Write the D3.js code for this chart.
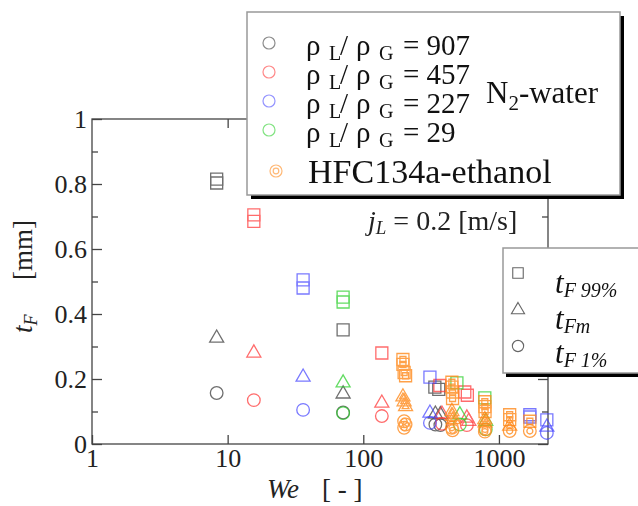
<!DOCTYPE html>
<html>
<head>
<meta charset="utf-8">
<script src="https://cdn.jsdelivr.net/npm/d3@7"></script>
<style>
body { margin: 0; background: #fff; }
svg, svg text { font-family: "Liberation Serif", "Times New Roman", serif; }
</style>
</head>
<body>
<div id="chart"></div>
<script>

// --> DATA  ([We, tF in mm])

var xTicks = [1, 10, 100, 1000];
var yTicks = [0, 0.2, 0.4, 0.6, 0.8, 1];
var yMinor = [0.1, 0.3, 0.5, 0.7, 0.9];

// rho_L / rho_G = 907
var r907_99 = [[8.3, 0.815], [8.3, 0.803], [71, 0.351], [337, 0.175], [360, 0.168]];
var r907_m  = [[8.3, 0.326], [71, 0.154], [340, 0.092], [370, 0.09]];
var r907_1  = [[8.3, 0.157], [71, 0.097], [340, 0.06], [370, 0.058]];

// rho_L / rho_G = 457
var r457_99 = [[15.6, 0.705], [15.6, 0.685], [137, 0.28], [367, 0.18], [560, 0.16], [585, 0.15]];
var r457_m  = [[15.6, 0.28], [137, 0.126], [380, 0.092], [580, 0.08], [600, 0.07]];
var r457_1  = [[15.6, 0.135], [137, 0.086], [380, 0.062], [580, 0.058]];

// rho_L / rho_G = 227
var r227_99 = [[36, 0.505], [36, 0.48], [310, 0.206], [1690, 0.09], [1690, 0.083], [2255, 0.074]];
var r227_m  = [[36, 0.206], [310, 0.095], [2255, 0.052]];
var r227_1  = [[36, 0.105], [310, 0.065], [2255, 0.034]];

// rho_L / rho_G = 29
var r29_99 = [[71, 0.452], [71, 0.437], [490, 0.188], [787, 0.142]];
var r29_m  = [[71, 0.188], [515, 0.09], [800, 0.07]];
var r29_1  = [[71, 0.095], [515, 0.06], [800, 0.045]];

// HFC134a-ethanol
var hfc_99 = [[196, 0.26], [196, 0.245], [200, 0.22], [205, 0.21], [450, 0.19], [450, 0.175],
              [455, 0.16], [455, 0.14], [787, 0.13], [787, 0.115], [790, 0.1], [1200, 0.09],
              [1200, 0.075], [1690, 0.07]];
var hfc_m  = [[196, 0.145], [200, 0.13], [205, 0.115], [450, 0.1], [455, 0.085], [460, 0.075],
              [787, 0.075], [790, 0.065], [1200, 0.055]];
var hfc_1  = [[200, 0.07], [205, 0.06], [200, 0.05], [450, 0.05], [455, 0.042], [790, 0.045],
              [787, 0.038], [1200, 0.04], [1690, 0.04]];

var ratioLabels = ["907", "457", "227", "29"];

// --> CREATE SVG DRAWING AREA

var width = 638,
    height = 506;

var gray = "#555",
    red = "#ff3b3b",
    blue = "#4040ff",
    green = "#2fd02f",
    orange = "#ff8a1c";

var series = [
    { color: gray, op: 0.85, d99: r907_99, dm: r907_m, d1: r907_1, dbl: false },
    { color: red, op: 0.75, d99: r457_99, dm: r457_m, d1: r457_1, dbl: false },
    { color: blue, op: 0.7, d99: r227_99, dm: r227_m, d1: r227_1, dbl: false },
    { color: green, op: 0.75, d99: r29_99, dm: r29_m, d1: r29_1, dbl: false },
    { color: orange, op: 0.8, d99: hfc_99, dm: hfc_m, d1: hfc_1, dbl: true }
];

var svg = d3.select("#chart").append("svg")
    .attr("width", width)
    .attr("height", height);

var x = d3.scaleLog().domain([1, 2300]).range([92, 548]);
var y = d3.scaleLinear().domain([0, 1]).range([444, 119]);

var frameColor = "#444";

// axes
svg.append("g")
    .attr("transform", "translate(0," + y(0) + ")")
    .call(d3.axisBottom(x).tickValues(xTicks).tickFormat(d3.format("d"))
        .tickSizeInner(-9).tickSizeOuter(0).tickPadding(5));

svg.append("g")
    .attr("transform", "translate(" + x(1) + ",0)")
    .call(d3.axisLeft(y).tickValues(yTicks).tickFormat(function (d) { return String(d); })
        .tickSizeInner(-10).tickSizeOuter(0).tickPadding(5));

svg.append("g")
    .attr("transform", "translate(0," + y(1) + ")")
    .call(d3.axisTop(x).tickValues(xTicks.slice(1)).tickFormat("")
        .tickSizeInner(-9).tickSizeOuter(0));

svg.append("g")
    .attr("transform", "translate(" + x(2300) + ",0)")
    .call(d3.axisRight(y).tickValues(yTicks).tickFormat("")
        .tickSizeInner(-10).tickSizeOuter(0));

svg.append("g")
    .attr("transform", "translate(" + x(1) + ",0)")
    .call(d3.axisLeft(y).tickValues(yMinor).tickFormat("").tickSizeInner(-6).tickSizeOuter(0));

svg.append("g")
    .attr("transform", "translate(" + x(2300) + ",0)")
    .call(d3.axisRight(y).tickValues(yMinor).tickFormat("").tickSizeInner(-6).tickSizeOuter(0));

svg.selectAll(".domain").remove();
svg.selectAll(".tick line").style("stroke", frameColor).style("stroke-width", 1.3);
svg.selectAll(".tick text")
    .style("font-family", "'Liberation Serif', serif")
    .style("font-size", "26px")
    .style("fill", "#222");

// frame
svg.append("rect")
    .attr("x", x(1))
    .attr("y", y(1))
    .attr("width", x(2300) - x(1))
    .attr("height", y(0) - y(1))
    .style("fill", "none")
    .style("stroke", frameColor)
    .style("stroke-width", 1.3);

// axis titles
svg.append("text")
    .attr("x", 267).attr("y", 498)
    .style("font-size", "27px").style("font-style", "italic").style("fill", "#222")
    .text("We");
svg.append("text")
    .attr("x", 322).attr("y", 498)
    .style("font-size", "27px").style("fill", "#222")
    .text("[ - ]");

var yTitle = svg.append("text")
    .attr("transform", "translate(32,333) rotate(-90)")
    .style("font-size", "27px").style("fill", "#222");
yTitle.append("tspan").style("font-style", "italic").text("t");
yTitle.append("tspan").attr("dy", 5).style("font-size", "18px").style("font-style", "italic").text("F");
yTitle.append("tspan").attr("x", 53).attr("dy", -5).text("[mm]");

// --> DATA MARKERS

var shapes = [
    { key: "d99", type: d3.symbolSquare, size: 144, inner: 36 },
    { key: "dm", type: d3.symbolTriangle, size: 85, inner: 20 },
    { key: "d1", type: d3.symbolCircle, size: 125, inner: 28 }
];

var marks = svg.append("g");

series.forEach(function (s) {
    shapes.forEach(function (sh) {
        var g = marks.append("g")
            .style("fill", "none")
            .style("stroke", s.color)
            .style("stroke-width", 1.3)
            .style("opacity", s.op);
        g.selectAll("path.outer")
            .data(s[sh.key])
            .enter()
            .append("path")
            .attr("class", "outer")
            .attr("transform", function (d) { return "translate(" + x(d[0]) + "," + y(d[1]) + ")"; })
            .attr("d", d3.symbol().type(sh.type).size(sh.size));
        if (s.dbl) {
            g.selectAll("path.inner")
                .data(s[sh.key])
                .enter()
                .append("path")
                .attr("class", "inner")
                .attr("transform", function (d) { return "translate(" + x(d[0]) + "," + y(d[1]) + ")"; })
                .attr("d", d3.symbol().type(sh.type).size(sh.inner));
        }
    });
});

// j_L annotation
var jl = svg.append("text")
    .attr("x", 368).attr("y", 230)
    .style("font-size", "28px").style("fill", "#222");
jl.append("tspan").style("font-style", "italic").text("j");
jl.append("tspan").attr("dy", 4).style("font-size", "19px").style("font-style", "italic").text("L");
jl.append("tspan").attr("dy", -4).text(" = 0.2 [m/s]");

// --> LEGEND 1 (fluids)

var leg1 = svg.append("g");
leg1.append("rect")
    .attr("x", 251).attr("y", 16).attr("width", 373).attr("height", 183)
    .style("fill", "#000");
leg1.append("rect")
    .attr("x", 247).attr("y", 12).attr("width", 373).attr("height", 183)
    .style("fill", "#fff").style("stroke", "#999").style("stroke-width", 1.5);

ratioLabels.forEach(function (lab, i) {
    var by = 55 + i * 29;
    leg1.append("circle")
        .attr("cx", 269).attr("cy", by - 12).attr("r", 6)
        .style("fill", "none")
        .style("stroke", series[i].color)
        .style("stroke-width", 1.2)
        .style("opacity", series[i].op * 0.8);
    var t = leg1.append("text").attr("y", by).style("font-size", "29px").style("fill", "#111");
    t.append("tspan").attr("x", 306).text("ρ");
    t.append("tspan").attr("x", 329).attr("dy", 5).style("font-size", "20px").text("L");
    t.append("tspan").attr("x", 340).attr("dy", -5).text("/");
    t.append("tspan").attr("x", 356).text("ρ");
    t.append("tspan").attr("x", 379).attr("dy", 5).style("font-size", "20px").text("G");
    t.append("tspan").attr("x", 403).attr("dy", -5).text("= " + lab);
});

leg1.append("circle").attr("cx", 276).attr("cy", 171).attr("r", 6)
    .style("fill", "none").style("stroke", orange).style("stroke-width", 1.2).style("opacity", 0.6);
leg1.append("circle").attr("cx", 276).attr("cy", 171).attr("r", 2.8)
    .style("fill", "none").style("stroke", orange).style("stroke-width", 1.2).style("opacity", 0.6);

leg1.append("text")
    .attr("x", 308).attr("y", 183)
    .style("font-size", "34px").style("fill", "#111")
    .text("HFC134a-ethanol");

var n2 = leg1.append("text").attr("x", 486).attr("y", 103).style("font-size", "31px").style("fill", "#111");
n2.append("tspan").text("N");
n2.append("tspan").attr("dy", 7).style("font-size", "21px").text("2");
n2.append("tspan").attr("dy", -7).text("-water");

// --> LEGEND 2 (thickness)

var leg2 = svg.append("g");
leg2.append("rect")
    .attr("x", 506).attr("y", 252).attr("width", 150).attr("height", 125)
    .style("fill", "#000");
leg2.append("rect")
    .attr("x", 503).attr("y", 248).attr("width", 150).attr("height", 125)
    .style("fill", "#fff").style("stroke", "#999").style("stroke-width", 1.5);

var leg2Rows = [
    { type: d3.symbolSquare, size: 110, cy: 273, base: 293, sub: "F 99%" },
    { type: d3.symbolTriangle, size: 75, cy: 310, base: 329, sub: "Fm" },
    { type: d3.symbolCircle, size: 100, cy: 346, base: 363, sub: "F 1%" }
];

leg2Rows.forEach(function (r) {
    leg2.append("path")
        .attr("transform", "translate(518," + r.cy + ")")
        .attr("d", d3.symbol().type(r.type).size(r.size))
        .style("fill", "none").style("stroke", "#666").style("stroke-width", 1.1);
    var t = leg2.append("text")
        .attr("x", 555).attr("y", r.base)
        .style("font-size", "31px").style("font-style", "italic").style("fill", "#111");
    t.append("tspan").text("t");
    t.append("tspan").attr("dy", 4).style("font-size", "20px").text(r.sub);
});

</script>
</body>
</html>
